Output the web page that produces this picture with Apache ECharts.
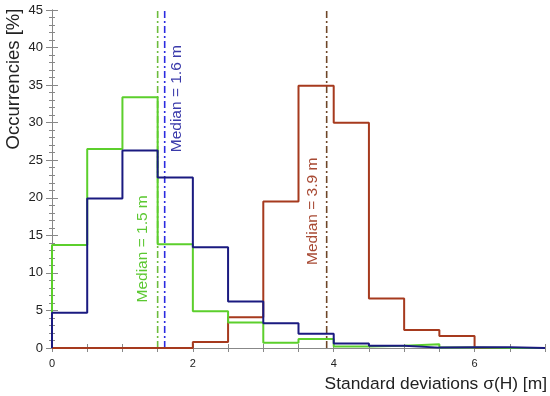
<!DOCTYPE html>
<html><head><meta charset="utf-8">
<script src="https://cdn.jsdelivr.net/npm/echarts@6/dist/echarts.min.js"></script>
<style>html,body{margin:0;padding:0;background:#fff}#c{width:550px;height:396px}</style>
</head><body><div id="c"></div>
<script>
// Bin left edges (width 0.5 m)
const binEdges = [0,0.5,1,1.5,2,2.5,3,3.5,4,4.5,5,5.5,6,6.5,7];
const greenVals = [13.7,26.5,33.4,13.8,4.9,3.4,0.7,1.2,0.2,0.3,0.5,0.05,0,0];
const blueVals  = [4.7,19.9,26.3,22.7,13.4,6.2,3.3,1.9,0.6,0.3,0.05,0.1,0.1,0];
const redVals   = [0,0,0,0,0.8,4.1,19.5,34.9,30.0,6.6,2.4,1.6,0,0];
const medians = [1.5, 1.6, 3.9];
const medianLabels = ['Median = 1.5 m','Median = 1.6 m','Median = 3.9 m'];
const xTickLabels = ['0','2','4','6'];

function stepData(vals){
  const d=[[binEdges[0],0]];
  for(let i=0;i<vals.length;i++) d.push([binEdges[i],vals[i]]);
  d.push([binEdges[binEdges.length-1],vals[vals.length-1]]);
  return d;
}
const font='"Liberation Sans", Arial, sans-serif';
const chart=echarts.init(document.getElementById('c'));
const cols={g:'#5ccf2c',b:'#1a1a80',r:'#a63a1e'};
const medCols=['#6cbc3c','#2a2ae0','#6e4628'];
const dashDot=[7,3,2,3];
function medSeries(i){
  return {type:'line',data:[[medians[i],0],[medians[i],45]],symbol:'none',silent:true,
    lineStyle:{color:medCols[i],width:1.6,type:dashDot},z:3};
}
chart.setOption({
  animation:false,
  grid:{left:52,right:5,top:10,bottom:48},
  xAxis:[{type:'value',min:0,max:7,interval:0.5,position:'bottom',
    axisLine:{show:true,lineStyle:{color:'#888',width:1}},
    axisTick:{inside:true,length:4,lineStyle:{color:'#888'}},
    axisLabel:{color:'#222',fontSize:11,fontFamily:font,margin:10,
      formatter:v=>xTickLabels.indexOf(String(v))>=0?String(v):''},
    splitLine:{show:false}},
   {type:'value',min:0,max:7,interval:0.5,position:'top',
    axisLine:{show:true,lineStyle:{color:'#888',width:1}},
    axisTick:{inside:true,length:4,lineStyle:{color:'#888'}},
    axisLabel:{show:false},splitLine:{show:false}}],
  yAxis:[{type:'value',min:0,max:45,interval:5,position:'left',
    axisLine:{show:true,lineStyle:{color:'#888',width:1}},
    axisTick:{inside:true,length:6,lineStyle:{color:'#888'}},
    minorTick:{show:true,splitNumber:5,length:3,lineStyle:{color:'#888'}},
    axisLabel:{color:'#222',fontSize:13,fontFamily:font,margin:9},
    splitLine:{show:false}},
   {type:'value',min:0,max:45,interval:5,position:'right',
    axisLine:{show:true,lineStyle:{color:'#888',width:1}},
    axisTick:{inside:true,length:6,lineStyle:{color:'#888'}},
    minorTick:{show:true,splitNumber:5,length:3,lineStyle:{color:'#888'}},
    axisLabel:{show:false},splitLine:{show:false}}],
  series:[
    medSeries(0),medSeries(1),medSeries(2),
    {type:'line',step:'end',data:stepData(redVals),symbol:'none',lineStyle:{color:cols.r,width:2},z:4},
    {type:'line',step:'end',data:stepData(greenVals),symbol:'none',lineStyle:{color:cols.g,width:2},z:5},
    {type:'line',step:'end',data:stepData(blueVals),symbol:'none',lineStyle:{color:cols.b,width:2},z:6}
  ]
});
const labelPos=[[1.29,13.2],[1.77,33.2],[3.70,18.2]];
const labelCols=['#5cc832','#3a3aaa','#a84a34'];
const g=[];
labelPos.forEach((p,i)=>{
  const px=chart.convertToPixel({xAxisIndex:0,yAxisIndex:0},p);
  g.push({type:'text',x:px[0],y:px[1],rotation:Math.PI/2,
    style:{text:medianLabels[i],fill:labelCols[i],font:'15.5px '+font,align:'center',verticalAlign:'middle'}});
});
g.push({type:'text',x:14,y:79,rotation:Math.PI/2,
  style:{text:'Occurrencies [%]',fill:'#222',font:'18.5px '+font,align:'center',verticalAlign:'middle'}});
g.push({type:'text',x:547,y:384,
  style:{text:'Standard deviations σ(H) [m]',fill:'#222',font:'17.4px '+font,align:'right',verticalAlign:'middle'}});
chart.setOption({graphic:g});
</script></body></html>
